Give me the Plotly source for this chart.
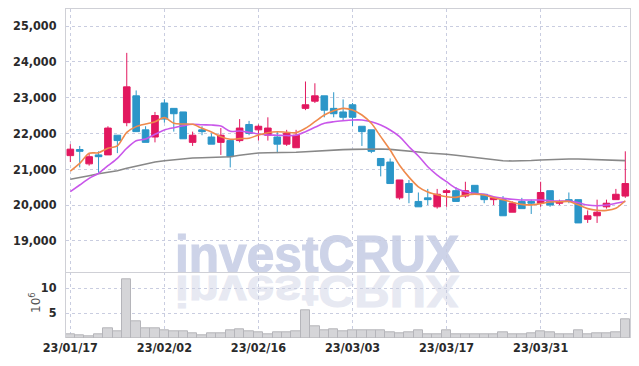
import base64
import plotly.graph_objects as go

dates = ["23/01/17", "23/01/18", "23/01/19", "23/01/20", "23/01/25", "23/01/26", "23/01/27", "23/01/30", "23/01/31",
         "23/02/01", "23/02/02", "23/02/03", "23/02/06", "23/02/07", "23/02/08", "23/02/09", "23/02/10", "23/02/13",
         "23/02/14", "23/02/15", "23/02/16", "23/02/17", "23/02/20", "23/02/21", "23/02/22", "23/02/23", "23/02/24",
         "23/02/27", "23/02/28", "23/03/02", "23/03/03", "23/03/06", "23/03/07", "23/03/08", "23/03/09", "23/03/10",
         "23/03/13", "23/03/14", "23/03/15", "23/03/16", "23/03/17", "23/03/20", "23/03/21", "23/03/22", "23/03/23",
         "23/03/24", "23/03/27", "23/03/28", "23/03/29", "23/03/30", "23/03/31", "23/04/03", "23/04/04", "23/04/05",
         "23/04/06", "23/04/07", "23/04/10", "23/04/11", "23/04/12", "23/04/13"]

open_ = [21380, 21550, 21150, 21400, 21400, 21950, 22300, 23050, 22100, 21900,
         22850, 22700, 22600, 21750, 22100, 21900, 21750, 21800, 21800, 22250,
         22100, 21950, 21900, 21700, 21600, 22700, 22900, 23050, 22700, 22600,
         22800, 22200, 22100, 21300, 21200, 20200, 20600, 20100, 20200, 19950,
         20350, 20400, 20250, 20550, 20300, 20150, 20150, 19800, 20100, 20100,
         20050, 20400, 20050, 20150, 20150, 19600, 19700, 19950, 20150, 20250]
high = [21700, 21650, 21450, 21500, 22200, 21950, 24250, 23200, 22200, 22600,
        22950, 22700, 22600, 22050, 22200, 22000, 22150, 21800, 22400, 22350,
        22250, 22450, 22050, 22100, 22100, 23450, 23400, 23050, 23150, 22950,
        22850, 22200, 22100, 21300, 21300, 20700, 20700, 20350, 20450, 20450,
        20450, 20500, 20650, 20550, 20300, 20200, 20250, 20100, 20200, 20150,
        20650, 20400, 20150, 20350, 20150, 19850, 20150, 20150, 20450, 21500]
low = [21200, 21050, 21100, 20900, 21400, 21450, 22200, 22050, 21750, 21750,
       22300, 22050, 21850, 21650, 21950, 21700, 21400, 21050, 21750, 21950,
       21800, 21800, 21450, 21650, 21600, 22650, 22850, 22450, 22450, 22350,
       22200, 21650, 21450, 20800, 20600, 20150, 20050, 19950, 20000, 19900,
       19950, 20100, 20200, 20300, 20050, 20000, 19700, 19800, 19900, 19750,
       19950, 19950, 20000, 20050, 19500, 19500, 19500, 19900, 20150, 20200]
close = [21560, 21500, 21350, 21350, 22150, 21800, 23300, 22050, 21750, 22500,
         22400, 22550, 21850, 21950, 22050, 21700, 21950, 21350, 22150, 22000,
         22200, 22150, 21700, 22000, 21950, 22800, 23050, 22650, 22550, 22450,
         22450, 22050, 21500, 21100, 20600, 20700, 20350, 19950, 20150, 20300,
         20400, 20100, 20400, 20300, 20150, 20200, 19700, 20050, 19900, 20050,
         20350, 20000, 20100, 20100, 19500, 19700, 19800, 20050, 20300, 20600]

ma_short = [20950, 21165, 21445, 21460, 21585, 21650, 22030, 22190, 22263, 22327,
            22440, 22283, 22263, 22254, 22143, 22040, 21910, 21836, 21855, 21864,
            21956, 22020, 22048, 22030, 22020, 22143, 22327, 22514, 22634, 22700,
            22654, 22514, 22282, 21910, 21537, 21110, 20780, 20510, 20365, 20285,
            20232, 20215, 20275, 20305, 20278, 20205, 20145, 20078, 20018, 20005,
            20040, 20085, 20090, 20100, 20005, 19900, 19852, 19850, 19910, 20120]
ma_mid = [20372, 20559, 20745, 20886, 21098, 21305, 21585, 21796, 21844, 21975,
          22095, 22160, 22215, 22254, 22240, 22235, 22207, 22060, 22067, 22030,
          21984, 21956, 21950, 21940, 21950, 22048, 22171, 22282, 22327, 22355,
          22375, 22375, 22327, 22235, 22095, 21910, 21629, 21369, 21070, 20838,
          20651, 20467, 20372, 20327, 20300, 20232, 20188, 20160, 20140, 20140,
          20140, 20121, 20112, 20112, 20065, 20000, 19981, 20000, 20048, 20100]
ma_long = [20718, 20763, 20819, 20875, 20914, 20958, 21025, 21090, 21146, 21202,
           21238, 21266, 21294, 21313, 21322, 21331, 21340, 21350, 21389, 21425,
           21453, 21460, 21460, 21460, 21472, 21490, 21509, 21520, 21528, 21546,
           21555, 21564, 21570, 21564, 21555, 21537, 21509, 21481, 21453, 21440,
           21420, 21390, 21360, 21330, 21300, 21271, 21235, 21230, 21230, 21243,
           21257, 21271, 21285, 21285, 21285, 21277, 21271, 21257, 21250, 21240]

volume_m = [0.83, 0.63, 0.37, 0.83, 2.03, 1.43, 11.83, 3.3, 2.03, 2.03,
            1.63, 1.3, 1.3, 1.03, 0.63, 1.03, 1.03, 1.5, 1.83, 1.43,
            1.17, 0.83, 1.23, 1.1, 1.3, 5.63, 2.3, 1.5, 1.83, 1.3,
            1.45, 1.63, 1.63, 1.63, 1.2, 0.85, 1.1, 1.45, 0.7, 0.83,
            1.63, 0.7, 0.83, 0.7, 0.83, 0.83, 1.23, 0.7, 0.7, 0.97,
            1.37, 1.17, 0.7, 0.83, 1.63, 0.83, 1.03, 1.03, 1.23, 3.83]

price_ticks = [19000, 20000, 21000, 22000, 23000, 24000, 25000]
volume_ticks = [5, 10]
date_ticks = ["23/01/17", "23/02/02", "23/02/16", "23/03/03", "23/03/17", "23/03/31"]
volume_unit = "10<sup>6</sup>"

UP = "#e2185f"
DOWN = "#2b96c8"
GRID = "#c9cde0"
BORDER = "#cfd0d6"
TICKFONT = dict(family="Liberation Sans Narrow, DejaVu Sans Condensed, sans-serif",
                size=12.5, color="#2a2a2a", weight="bold")

fig = go.Figure()

fig.add_trace(go.Candlestick(
    x=dates, open=open_, high=high, low=low, close=close,
    increasing=dict(line=dict(color=UP, width=1), fillcolor=UP),
    decreasing=dict(line=dict(color=DOWN, width=1), fillcolor=DOWN),
    whiskerwidth=0, xaxis="x2", yaxis="y", showlegend=False, hoverinfo="skip"))

fig.add_trace(go.Scatter(x=dates, y=ma_long, mode="lines", xaxis="x2", yaxis="y",
                         line=dict(color="#888888", width=1.6), showlegend=False, hoverinfo="skip"))
fig.add_trace(go.Scatter(x=dates, y=ma_mid, mode="lines", xaxis="x2", yaxis="y",
                         line=dict(color="#c957ea", width=1.6, shape="spline", smoothing=0.8),
                         showlegend=False, hoverinfo="skip"))
fig.add_trace(go.Scatter(x=dates, y=ma_short, mode="lines", xaxis="x2", yaxis="y",
                         line=dict(color="#ef8a4c", width=1.6, shape="spline", smoothing=0.8),
                         showlegend=False, hoverinfo="skip"))

fig.add_trace(go.Bar(x=dates, y=volume_m, xaxis="x", yaxis="y2",
                     marker=dict(color="#d5d5d8", line=dict(color="#b5b5ba", width=1)),
                     showlegend=False, hoverinfo="skip"))

# watermark with reflection
svg = (
    '<svg xmlns="http://www.w3.org/2000/svg" width="295" height="85" viewBox="0 0 295 85">'
    '<g font-family="Liberation Sans, Arial, sans-serif" font-weight="bold" font-size="52">'
    '<text x="3" y="42" textLength="284" lengthAdjust="spacingAndGlyphs" fill="#cdd3e8" '
    'stroke="#cdd3e8" stroke-width="1.2">investCRUX</text>'
    '<g transform="matrix(1 0 0 -0.85 0 81.7)">'
    '<text x="3" y="42" textLength="284" lengthAdjust="spacingAndGlyphs" fill="#e7e9f2" '
    'stroke="#e7e9f2" stroke-width="1.2">investCRUX</text>'
    '</g></g></svg>'
)
src = "data:image/svg+xml;base64," + base64.b64encode(svg.encode()).decode()
fig.add_layout_image(dict(source=src, xref="paper", yref="paper", x=(172 - 66) / 564, y=(338 - 230) / 329,
                          sizex=295 / 564, sizey=85 / 329, sizing="stretch", xanchor="left", yanchor="top",
                          layer="below"))

fig.add_annotation(text=volume_unit, xref="paper", yref="paper", x=(35 - 66) / 564, y=(338 - 303) / 329,
                   textangle=-90, showarrow=False, xanchor="center", yanchor="middle",
                   font=dict(family="DejaVu Sans, sans-serif", size=12, color="#555555"))

vol_top = (338 - 272.3) / 329

fig.update_layout(
    width=639, height=366,
    margin=dict(l=66, r=9, t=9, b=28, autoexpand=False),
    paper_bgcolor="white", plot_bgcolor="rgba(0,0,0,0)",
    boxgap=0.12, boxgroupgap=0.2, bargap=0,
    showlegend=False,
    xaxis=dict(type="category", anchor="y2", domain=[0, 1], range=[-0.46, 59.5], automargin=False,
               tickmode="array", tickvals=date_ticks, ticktext=date_ticks,
               tickfont=TICKFONT, showgrid=True, gridcolor=GRID, griddash="dot", gridwidth=1,
               showline=False, ticks="", zeroline=False, rangeslider=dict(visible=False)),
    xaxis2=dict(type="category", anchor="y", matches="x", range=[-0.46, 59.5], automargin=False,
                tickmode="array", tickvals=date_ticks, showticklabels=False,
                showgrid=True, gridcolor=GRID, griddash="dot", gridwidth=1,
                showline=True, linecolor=BORDER, linewidth=1, mirror=True, ticks="",
                zeroline=False, rangeslider=dict(visible=False)),
    yaxis=dict(domain=[vol_top, 1], range=[18121, 25475], tickmode="array", tickvals=price_ticks,
               tickformat=",d", tickfont=TICKFONT, showgrid=True, gridcolor=GRID, griddash="dot",
               showline=True, linecolor=BORDER, linewidth=1, mirror=True, ticks="", automargin=False,
               ticklabelstandoff=6, zeroline=False),
    yaxis2=dict(domain=[0, vol_top], range=[0, 13.14], tickmode="array", tickvals=volume_ticks,
                tickfont=TICKFONT, showgrid=True, gridcolor=GRID, griddash="dot",
                showline=True, linecolor=BORDER, linewidth=1, mirror=True, ticks="", automargin=False,
                ticklabelstandoff=6, zeroline=False),
)

fig.write_html("out.html", config={"displayModeBar": False},
               post_script="document.body.style.margin='0';document.body.style.overflow='hidden';")
